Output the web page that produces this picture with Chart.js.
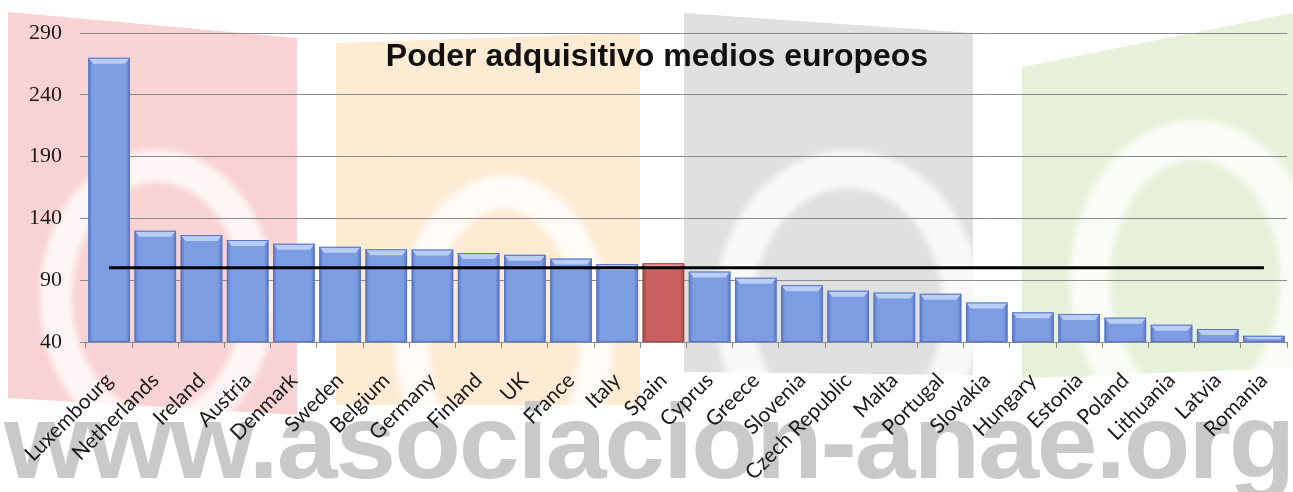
<!DOCTYPE html>
<html>
<head>
<meta charset="utf-8">
<script src="https://cdn.jsdelivr.net/npm/chart.js@4"></script>
<style>
    html, body { margin: 0; padding: 0; background: #fff; }
    #wrap { position: relative; width: 1293px; height: 492px; overflow: hidden; }
    .mark { position: absolute; left: 0; top: 0; width: 1293px; height: 492px; }
    #pink { background: #f9d3d3; clip-path: polygon(8px 12px, 297px 38px, 297px 415px, 8px 398px); }
    #peach { background: #fdebd4; clip-path: polygon(336px 43px, 640px 33px, 640px 405px, 336px 405px); }
    #grey { background: #e0e0e0; clip-path: polygon(684px 13px, 973px 33px, 973px 375px, 684px 372px); }
    #green { background: #e7f1d9; clip-path: polygon(1022px 67px, 1293px 13px, 1293px 368px, 1022px 378px); }
    .ring { position: absolute; border-style: solid; border-color: rgba(255,255,255,0.8); border-radius: 50%; filter: blur(3px); }
    #site {
        position: absolute; left: 4px; top: 381px; white-space: nowrap;
        font: bold 106px "Liberation Sans", Arial, sans-serif; color: #c9c9c9;
        transform: scaleX(1.03); transform-origin: left top; letter-spacing: -2px;
    }
    #chart { position: absolute; left: 0; top: 0; }
</style>
</head>
<body>
<div id="wrap">
    <div class="mark" id="pink"></div>
    <div class="mark" id="peach"></div>
    <div class="mark" id="grey"></div>
    <div class="mark" id="green"></div>
    <div class="ring" style="left:40px;top:150px;width:170px;height:230px;border-width:32px;"></div>
    <div class="ring" style="left:395px;top:175px;width:150px;height:260px;border-width:34px;"></div>
    <div class="ring" style="left:715px;top:150px;width:190px;height:240px;border-width:38px;"></div>
    <div class="ring" style="left:1070px;top:120px;width:170px;height:240px;border-width:40px;"></div>
    <div id="site">www.asociacion-anae.org</div>
    <canvas id="chart" width="1293" height="492"></canvas>
</div>
<script>
// datos
const paises = ['Luxembourg', 'Netherlands', 'Ireland', 'Austria', 'Denmark', 'Sweden', 'Belgium',
    'Germany', 'Finland', 'UK', 'France', 'Italy', 'Spain', 'Cyprus', 'Greece', 'Slovenia',
    'Czech Republic', 'Malta', 'Portugal', 'Slovakia', 'Hungary', 'Estonia', 'Poland',
    'Lithuania', 'Latvia', 'Romania'];
const poderAdquisitivo = [270, 130, 126.5, 122.5, 119.5, 117, 115, 114.8, 112, 110.5, 107.5, 103,
    103.7, 97, 92, 86, 81.5, 80, 79, 72, 64, 62.7, 59.7, 54, 50.5, 45];
const mediaUE = [100, 100, 100, 100, 100, 100, 100, 100, 100, 100, 100, 100, 100,
    100, 100, 100, 100, 100, 100, 100, 100, 100, 100, 100, 100, 100];
const ticksY = [40, 90, 140, 190, 240, 290];
const destacado = 'Spain';

const BAR_PCT = 0.9;

function colores(i) {
    if (paises[i] === destacado) {
        return { edge: '#9e4542', body: '#c9625f', light: '#e49994' };
    }
    return { edge: '#5675c6', body: '#7d9de3', light: '#b9cdf5' };
}

// relleno con degradado horizontal para simular el efecto 3D
function rellenoBarra(context) {
    const chart = context.chart;
    const xs = chart.scales.x;
    const i = context.dataIndex;
    if (!xs || i === undefined) return '#7d9de3';
    const c = colores(i);
    const cx = xs.getPixelForValue(i);
    const half = xs.width / paises.length * BAR_PCT / 2;
    if (!isFinite(cx) || !isFinite(half) || half <= 0) return c.body;
    const g = chart.ctx.createLinearGradient(cx - half, 0, cx + half, 0);
    g.addColorStop(0, c.edge);
    g.addColorStop(0.1, c.body);
    g.addColorStop(0.9, c.body);
    g.addColorStop(1, c.edge);
    return g;
}

// bisel claro en la parte superior de cada barra
const biselPlugin = {
    id: 'bisel',
    afterDatasetDraw(chart, args) {
        if (args.index !== 0) return;
        const ctx = chart.ctx;
        const bottom = chart.chartArea.bottom;
        args.meta.data.forEach(function (bar, i) {
            const c = colores(i);
            const base = Math.min(bar.base, bottom);
            const l = bar.x - bar.width / 2, r = bar.x + bar.width / 2, t = bar.y;
            const h = Math.min(6, (base - t) / 2);
            ctx.save();
            ctx.beginPath();
            ctx.moveTo(l, t);
            ctx.lineTo(r, t);
            ctx.lineTo(r - 5, t + h);
            ctx.lineTo(l + 5, t + h);
            ctx.closePath();
            ctx.fillStyle = c.light;
            ctx.fill();
            ctx.strokeStyle = c.edge;
            ctx.lineWidth = 1;
            ctx.strokeRect(l + 0.5, t + 0.5, bar.width - 1, base - t - 1);
            ctx.restore();
        });
    }
};

// título dentro del área del gráfico
const tituloPlugin = {
    id: 'tituloInterno',
    afterDraw(chart) {
        const ctx = chart.ctx;
        const a = chart.chartArea;
        ctx.save();
        ctx.font = 'bold 32px "Liberation Sans", Arial, sans-serif';
        ctx.fillStyle = '#111';
        ctx.textAlign = 'center';
        ctx.textBaseline = 'alphabetic';
        ctx.fillText('Poder adquisitivo medios europeos', 657, a.top + 33);
        ctx.restore();
    }
};

const config = {
    data: {
        labels: paises,
        datasets: [{
            type: 'bar',
            label: 'Poder adquisitivo',
            data: poderAdquisitivo,
            backgroundColor: rellenoBarra,
            borderWidth: 0,
            barPercentage: BAR_PCT,
            categoryPercentage: 1,
            order: 2
        }, {
            type: 'line',
            label: 'Media',
            data: mediaUE,
            borderColor: '#000',
            borderWidth: 3,
            pointRadius: 0,
            fill: false,
            order: 1
        }]
    },
    options: {
        responsive: false,
        animation: false,
        layout: { padding: { top: 33, right: 6, left: 0, bottom: 0 } },
        plugins: {
            legend: { display: false },
            tooltip: { enabled: false },
            title: { display: false }
        },
        scales: {
            x: {
                grid: { display: true, drawOnChartArea: false, drawTicks: true, tickLength: 6, color: '#8a8a8a' },
                border: { display: false },
                ticks: {
                    autoSkip: false,
                    maxRotation: 45,
                    minRotation: 45,
                    padding: 20,
                    labelOffset: 0,
                    color: '#1a1a1a',
                    font: { family: 'Lato, "Noto Sans", sans-serif', size: 21 }
                },
                afterFit(scale) {
                    scale.height = 150;
                    scale.paddingLeft = 0;
                    scale.paddingRight = 0;
                }
            },
            y: {
                min: ticksY[0],
                max: ticksY[ticksY.length - 1],
                afterBuildTicks(scale) { scale.ticks = ticksY.map(v => ({ value: v })); },
                grid: { color: '#8a8a8a', lineWidth: 1, tickLength: 6 },
                border: { display: false },
                ticks: {
                    padding: 18,
                    color: '#1a1a1a',
                    font: { family: '"Liberation Serif", "Times New Roman", serif', size: 22 }
                },
                afterFit(scale) { scale.width = 86; }
            }
        }
    },
    plugins: [biselPlugin, tituloPlugin]
};

new Chart(document.getElementById('chart'), config);
</script>
</body>
</html>
